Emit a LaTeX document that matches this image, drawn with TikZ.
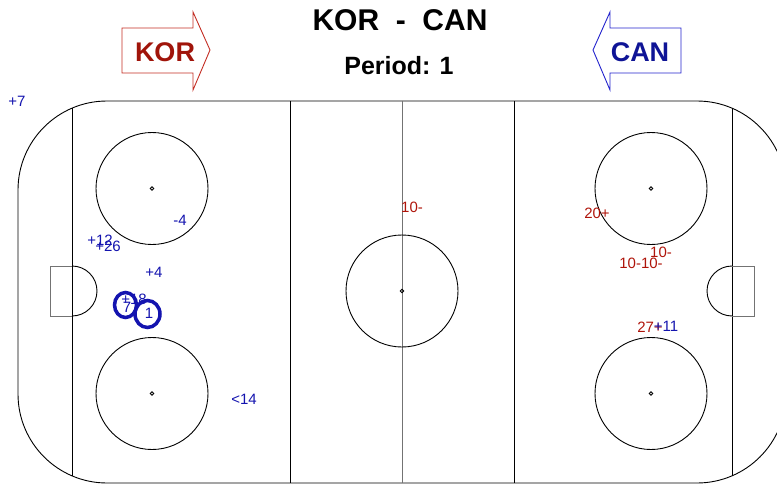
\documentclass[tikz,border=0pt]{standalone}
\usepackage{fontspec}
\setmainfont{Liberation Sans}
\usetikzlibrary{shapes.geometric}
\definecolor{lblblue}{RGB}{20,20,175}
\definecolor{lblred}{RGB}{175,20,10}
\definecolor{korline}{RGB}{195,45,35}
\definecolor{kortext}{RGB}{160,20,10}
\definecolor{canline}{RGB}{35,35,205}
\definecolor{cantext}{RGB}{15,20,150}
\tikzset{
  rinkline/.style={black,line width=0.9pt},
  grayline/.style={black!55,line width=0.9pt},
  bl/.style={text=lblblue,font=\fontsize{15}{15}\selectfont,inner sep=0pt,anchor=center},
  rd/.style={text=lblred,font=\fontsize{15}{15}\selectfont,inner sep=0pt,anchor=center},
  shotring/.style={draw=lblblue,line width=3.5pt,ellipse,inner sep=0pt},
}
\begin{document}
\begin{tikzpicture}[x=1pt,y=-1pt]
\useasboundingbox (0,0) rectangle (777,487);
\clip (0,0) rectangle (777,487);
% rink outline
\draw[rinkline,rounded corners=89pt] (18,101) rectangle (786,483);
% goal lines, blue lines, center line
\draw[rinkline] (72,108) -- (72,476);
\draw[rinkline] (732,108) -- (732,476);
\draw[rinkline] (290,101) -- (290,483);
\draw[rinkline] (514,101) -- (514,483);
\draw[grayline] (402,101) -- (402,483);
% center circle
\draw[rinkline] (402,291) circle[radius=56];
\draw[rinkline] (402,291) circle[radius=1.8];
% faceoff circles
\foreach \cx/\cy in {152/188.5,152/393.5,651/188.5,651/393.5}{
  \draw[rinkline] (\cx,\cy) circle[radius=56];
  \draw[rinkline] (\cx,\cy) circle[radius=1.8];
}
% goal creases
\draw[grayline] (72,266) -- (50,266) -- (50,316) -- (72,316);
\draw[rinkline] (72,266) arc[start angle=-90,end angle=90,radius=25];
\draw[grayline] (732,266) -- (754,266) -- (754,316) -- (732,316);
\draw[rinkline] (732,266) arc[start angle=-90,end angle=-270,radius=25];
% team arrows
\draw[korline,line width=0.9pt] (122,28) -- (193,28) -- (193,12) -- (210,50) -- (193,90) -- (193,73) -- (122,73) -- cycle;
\node[text=kortext,font=\bfseries\fontsize{27}{27}\selectfont,inner sep=0pt] (kor) at (165,52) {KOR};
\draw[canline,line width=0.9pt] (681,28) -- (610,28) -- (610,12) -- (593,50) -- (610,90) -- (610,73) -- (681,73) -- cycle;
\node[text=cantext,font=\bfseries\fontsize{27}{27}\selectfont,inner sep=0pt] (can) at (640,52) {CAN};
% titles
\node[font=\bfseries\fontsize{30}{30}\selectfont,inner sep=0pt] (title) at (400,20) {KOR\ \ -\ \ CAN};
\node[font=\bfseries\fontsize{25}{25}\selectfont,inner sep=0pt] (period) at (399,66) {Period: 1};
% blue labels
\node[bl] (b7) at (17,101) {+7};
\node[bl] (bm4) at (180,220) {-4};
\node[bl] (b12) at (100,240) {+12};
\node[bl] (b26) at (108,246) {+26};
\node[bl] (b4) at (154,272) {+4};
\node[bl] (b18) at (134,299) {+18};
\node[bl] (b14) at (244,399) {<14};
% red labels
\node[rd] (r10a) at (412,207) {10-};
\node[rd] (r20) at (597,213) {20+};
\node[rd] (r10b) at (661,252) {10-};
\node[rd] (r1010) at (641,263) {10-10-};
\node[rd] (r27) at (650,327) {27+};
\node[bl] (b11) at (666,326) {+11};
% ringed shots
\node[shotring,minimum width=22pt,minimum height=25pt] (s7) at (125.5,305) {};
\node[bl] (t7) at (127,307) {7};
\node[shotring,minimum width=25pt,minimum height=27pt] (s1) at (147.5,314) {};
\node[bl] (t1) at (149,313) {1};
\end{tikzpicture}
\end{document}
